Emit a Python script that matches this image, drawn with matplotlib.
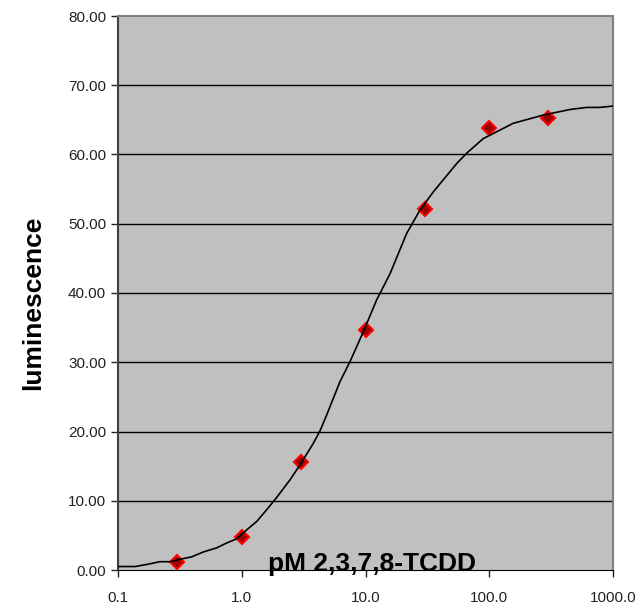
import matplotlib.pyplot as plt
from matplotlib.ticker import FixedLocator, FixedFormatter, NullLocator

plt.rcParams['font.family'] = ['Liberation Sans', 'DejaVu Sans']

# measured points
dose = [0.3, 1.0, 3.0, 10.0, 30.0, 100.0, 300.0]
lum = [1.2, 4.7, 15.6, 34.6, 52.1, 63.8, 65.3]

# fitted curve
curve_x = [0.1, 0.137, 0.171, 0.218, 0.263, 0.317, 0.394, 0.489, 0.628, 0.755,
           0.910, 1.097, 1.32, 1.59, 1.92, 2.45, 2.96, 3.79, 4.29, 4.86,
           6.22, 7.50, 9.6, 12.3, 15.8, 21.5, 27.6, 35.3, 54.6, 65.8,
           89.5, 156, 274, 450, 612, 785, 1000]
curve_y = [0.5, 0.5, 0.8, 1.2, 1.2, 1.55, 1.9, 2.6, 3.2, 3.9,
           4.5, 5.8, 7.0, 8.7, 10.5, 13.0, 15.2, 18.3, 20.1, 22.4,
           27.2, 30.1, 34.4, 39.0, 42.8, 48.6, 52.0, 54.6, 58.7, 60.2,
           62.3, 64.5, 65.7, 66.5, 66.8, 66.8, 67.0]

xticks = [0.1, 1.0, 10.0, 100.0, 1000.0]
xtick_labels = ['0.1', '1.0', '10.0', '100.0', '1000.0']
yticks = [0, 10, 20, 30, 40, 50, 60, 70, 80]

fig = plt.figure(figsize=(6.4, 6.07), dpi=100)
ax = fig.add_axes([118/640, 37/607, 495/640, 554/607])
ax.set_facecolor('#c0c0c0')

ax.set_xscale('log')
ax.set_xlim(0.1, 1000)
ax.set_ylim(0, 80)

for y in yticks[1:-1]:
    ax.axhline(y, color='black', lw=1, zorder=1)

ax.plot(dose, lum, linestyle='none', marker='D', markersize=7,
        markerfacecolor='#990000', markeredgecolor='#ff0000',
        markeredgewidth=1.5, zorder=2)
ax.plot(curve_x, curve_y, color='black', lw=1.2, zorder=3)

ax.xaxis.set_major_locator(FixedLocator(xticks))
ax.xaxis.set_major_formatter(FixedFormatter(xtick_labels))
ax.xaxis.set_minor_locator(NullLocator())
ax.set_yticks(yticks)
ax.set_yticklabels([f'{v:.2f}' for v in yticks])
ax.tick_params(axis='both', direction='out', length=5, width=1,
               labelsize=11, colors='#222222')
ax.tick_params(axis='x', pad=10)

for side in ['top', 'right']:
    ax.spines[side].set_color('#808080')
    ax.spines[side].set_linewidth(1.5)
ax.spines['left'].set_color('#404040')
ax.spines['left'].set_linewidth(1.5)
ax.spines['bottom'].set_color('black')

fig.text(33/640, 1 - 303/607, 'luminescence', rotation=90, fontsize=19,
         fontweight='bold', ha='center', va='center')
fig.text(372.5/640, 1 - 571.5/607, 'pM 2,3,7,8-TCDD', fontsize=19,
         fontweight='bold', ha='center', va='baseline', zorder=5)

fig.savefig('out.png', dpi=100)
